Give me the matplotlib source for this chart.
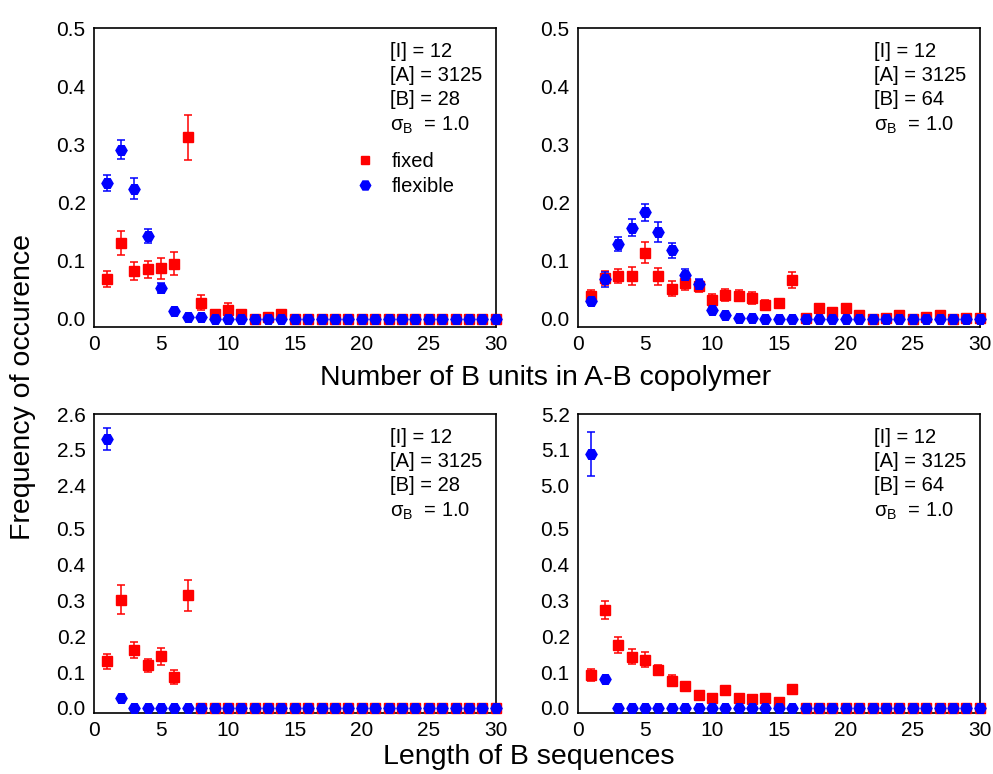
import numpy as np
import matplotlib
matplotlib.use("Agg")
import matplotlib.pyplot as plt
from matplotlib.lines import Line2D

plt.rcParams['font.family'] = ['Liberation Sans', 'DejaVu Sans']
plt.rcParams['mathtext.fontset'] = 'custom'
plt.rcParams['mathtext.rm'] = 'Liberation Sans'

# Datos (x = 1..30)
x = np.arange(1, 31)

# [B] = 28, número de unidades B
units28_fixed = [0.069, 0.130, 0.082, 0.085, 0.087, 0.095, 0.312, 0.028, 0.0085, 0.016,
                 0.009, 0.0, 0.003, 0.0085] + [0.0] * 16
units28_fixed_err = [0.014, 0.021, 0.016, 0.015, 0.018, 0.020, 0.039, 0.013, 0.005, 0.012,
                     0.006, 0.0, 0.003, 0.006] + [0.0] * 16
units28_flex = [0.234, 0.291, 0.224, 0.143, 0.053, 0.013, 0.004, 0.003] + [0.0] * 22
units28_flex_err = [0.014, 0.016, 0.018, 0.012, 0.008, 0.003, 0.0, 0.0] + [0.0] * 22

# [B] = 64, número de unidades B
units64_fixed = [0.040, 0.071, 0.074, 0.074, 0.114, 0.073, 0.052, 0.061, 0.057, 0.032,
                 0.041, 0.040, 0.036, 0.024, 0.028, 0.067, 0.002, 0.019, 0.011, 0.018,
                 0.007, 0.0, 0.002, 0.006, 0.0, 0.003, 0.006, 0.0, 0.002, 0.002]
units64_fixed_err = [0.010, 0.012, 0.012, 0.015, 0.018, 0.014, 0.013, 0.011, 0.010, 0.010,
                     0.010, 0.010, 0.010, 0.008, 0.006, 0.014, 0.003, 0.004, 0.004, 0.004,
                     0.003, 0.0, 0.002, 0.003, 0.0, 0.003, 0.003, 0.0, 0.002, 0.002]
units64_flex = [0.030, 0.068, 0.128, 0.157, 0.183, 0.149, 0.118, 0.076, 0.060, 0.015,
                0.007, 0.002, 0.002] + [0.0] * 17
units64_flex_err = [0.006, 0.013, 0.012, 0.015, 0.014, 0.017, 0.013, 0.010, 0.008, 0.003,
                    0.002, 0.0, 0.003] + [0.0] * 17

# [B] = 28, longitud de secuencias B
seq28_fixed = [0.130, 0.302, 0.162, 0.119, 0.144, 0.087, 0.314] + [0.0] * 23
seq28_fixed_err = [0.020, 0.040, 0.023, 0.018, 0.023, 0.020, 0.043] + [0.0] * 23
seq28_flex = [2.53, 0.029] + [0.0] * 28
seq28_flex_err = [0.03, 0.004] + [0.0] * 28

# [B] = 64, longitud de secuencias B
seq64_fixed = [0.093, 0.273, 0.176, 0.143, 0.135, 0.106, 0.076, 0.061, 0.036, 0.027,
               0.051, 0.027, 0.025, 0.027, 0.016, 0.053] + [0.0] * 14
seq64_fixed_err = [0.017, 0.025, 0.022, 0.021, 0.020, 0.015, 0.015, 0.010, 0.010, 0.006,
                   0.008, 0.006, 0.005, 0.006, 0.004, 0.010] + [0.0] * 14
seq64_flex = [5.089, 0.081] + [0.0] * 28
seq64_flex_err = [0.062, 0.004] + [0.0] * 28

params = [('[I] = 12', '[A] = 3125', '[B] = 28'),
          ('[I] = 12', '[A] = 3125', '[B] = 64')]

RED = '#ff0000'
BLUE = '#0000ff'


def broken_scale(lo_top, hi_bot, gap):
    def fwd(y):
        y = np.asarray(y, dtype=float)
        mid = lo_top + (y - lo_top) * gap / (hi_bot - lo_top)
        return np.where(y <= lo_top, y, np.where(y >= hi_bot, y - hi_bot + lo_top + gap, mid))

    def inv(t):
        t = np.asarray(t, dtype=float)
        mid = lo_top + (t - lo_top) * (hi_bot - lo_top) / gap
        return np.where(t <= lo_top, t, np.where(t >= lo_top + gap, t - lo_top - gap + hi_bot, mid))
    return fwd, inv


def draw(ax, fixed, fixed_err, flex, flex_err):
    ax.errorbar(x, fixed, yerr=fixed_err, fmt='s', color=RED, ms=7, capsize=2.8,
                elinewidth=1.1, capthick=1.1, clip_on=False, zorder=3)
    ax.errorbar(x, flex, yerr=flex_err, fmt='H', color=BLUE, ms=8, capsize=2.8,
                elinewidth=1.1, capthick=1.1, clip_on=False, zorder=4)
    ax.set_xlim(0, 30)
    ax.set_xticks([0, 5, 10, 15, 20, 25, 30])
    ax.tick_params(length=0, labelsize=15, pad=6)
    for s in ax.spines.values():
        s.set_linewidth(1.2)


def annotate(ax, lines, y0):
    txt = '\n'.join(lines) + '\n' + 'σ$_\\mathregular{B}$  = 1.0'
    ax.text(0.737, y0, txt, transform=ax.transAxes, fontsize=14.5, va='top', ha='left',
            linespacing=1.33)


fig = plt.figure(figsize=(9.93, 7.74), dpi=100)
w = 0.4045
h = 0.3863
ax1 = fig.add_axes([0.0947, 0.5775, w, h])
ax2 = fig.add_axes([0.5821, 0.5775, w, h])
ax3 = fig.add_axes([0.0947, 0.0788, w, h])
ax4 = fig.add_axes([0.5821, 0.0788, w, h])

# Paneles superiores
for ax, f, fe, b, be, p in [(ax1, units28_fixed, units28_fixed_err, units28_flex, units28_flex_err, params[0]),
                            (ax2, units64_fixed, units64_fixed_err, units64_flex, units64_flex_err, params[1])]:
    draw(ax, f, fe, b, be)
    ax.set_ylim(-0.014, 0.5)
    ax.set_yticks([0.0, 0.1, 0.2, 0.3, 0.4, 0.5])
    ax.set_yticklabels(['0.0', '0.1', '0.2', '0.3', '0.4', '0.5'])
    annotate(ax, p, 0.952)

# Paneles inferiores con eje y cortado
for ax, f, fe, b, be, p, lo in [(ax3, seq28_fixed, seq28_fixed_err, seq28_flex, seq28_flex_err, params[0], 2.4),
                                (ax4, seq64_fixed, seq64_fixed_err, seq64_flex, seq64_flex_err, params[1], 5.0)]:
    ax.set_yscale('function', functions=broken_scale(0.5, lo, 0.119))
    draw(ax, f, fe, b, be)
    ax.set_ylim(-0.014, lo + 0.2)
    ticks = [0.0, 0.1, 0.2, 0.3, 0.4, 0.5, lo, lo + 0.1, lo + 0.2]
    ax.set_yticks(ticks)
    ax.set_yticklabels(['%.1f' % t for t in ticks])
    ax.minorticks_off()
    annotate(ax, p, 0.952)

# Leyenda
handles = [Line2D([], [], ls='', marker='s', color=RED, ms=6),
           Line2D([], [], ls='', marker='H', color=BLUE, ms=7.5)]
ax1.legend(handles, ['fixed', 'flexible'], loc='upper left', bbox_to_anchor=(0.625, 0.618),
           frameon=False, fontsize=14.5, handlelength=1.0, handletextpad=0.8,
           labelspacing=0.28, borderpad=0.0)

fig.text(0.549, 0.511, 'Number of B units in A-B copolymer', fontsize=20.5, ha='center', va='center')
fig.text(0.532, 0.022, 'Length of B sequences', fontsize=20.5, ha='center', va='center')
fig.text(0.023, 0.5, 'Frequency of occurence', fontsize=20.5, ha='center', va='center',
         rotation=90)

plt.savefig('out.png', dpi=100)
plt.close()
